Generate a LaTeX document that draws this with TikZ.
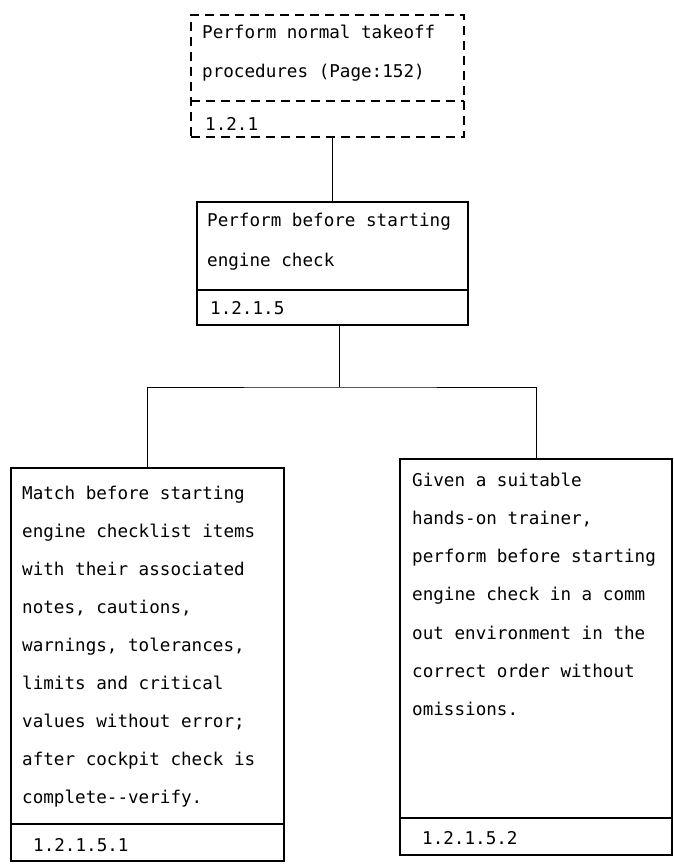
\documentclass[tikz,border=0pt]{standalone}
\usepackage{fontspec}
\setmonofont{DejaVu Sans Mono}
\begin{document}
\begin{tikzpicture}[x=1pt,y=-1pt,
  boxline/.style={line width=1.4pt},
  taskbox/.style={draw, boxline, inner sep=0pt},
  dashbox/.style={taskbox, dash pattern=on 9pt off 6pt},
  txt/.style={anchor=base west, inner sep=0pt, font=\ttfamily\fontsize{17.6}{20}\selectfont},
  link/.style={line width=1pt}]
\useasboundingbox (0,0) rectangle (673,864);

% top box (dashed)
\node[dashbox, minimum width=273pt, minimum height=122pt] (top) at (327.5,76) {};
\draw[boxline, dash pattern=on 9pt off 6pt] (191,101) -- (464,101);
\node[txt] (top1) at (202,39) {Perform normal takeoff};
\node[txt] (top2) at (202,78) {procedures (Page:152)};
\node[txt] (topid) at (205,131) {1.2.1};

% second box
\node[taskbox, minimum width=271pt, minimum height=123pt] (second) at (332.5,263.5) {};
\draw[boxline] (197,290) -- (468,290);
\node[txt] (sec1) at (207,226) {Perform before starting};
\node[txt] (sec2) at (207,266) {engine check};
\node[txt] (secid) at (210,314) {1.2.1.5};

% left box
\node[taskbox, minimum width=273pt, minimum height=393pt] (left) at (147.5,664.5) {};
\draw[boxline] (11,824) -- (284,824);
\foreach \t [count=\k from 0] in {Match before starting,engine checklist items,with their associated,{notes, cautions,},{warnings, tolerances,},limits and critical,values without error;,after cockpit check is,complete--verify.}
  \node[txt] (lt\k) at (22,499+38*\k) {\t};
\node[txt] (leftid) at (33,851) {1.2.1.5.1};

% right box
\node[taskbox, minimum width=272pt, minimum height=396pt] (right) at (536,657) {};
\draw[boxline] (400,818) -- (672,818);
\foreach \t [count=\k from 0] in {Given a suitable,{hands-on trainer,},perform before starting,engine check in a comm,out environment in the,correct order without,omissions.}
  \node[txt] (rt\k) at (412,486+38.3*\k) {\t};
\node[txt] (rightid) at (422,844) {1.2.1.5.2};

% connectors
\coordinate (c1) at (332,0);
\coordinate (bar) at (339,387);
\draw[link] (top.south -| c1) -- (second.north -| c1);
\draw[link] (second.south -| bar) -- (bar);
\draw[link] (left.north) |- (bar) -| (right.north);
\end{tikzpicture}
\end{document}
